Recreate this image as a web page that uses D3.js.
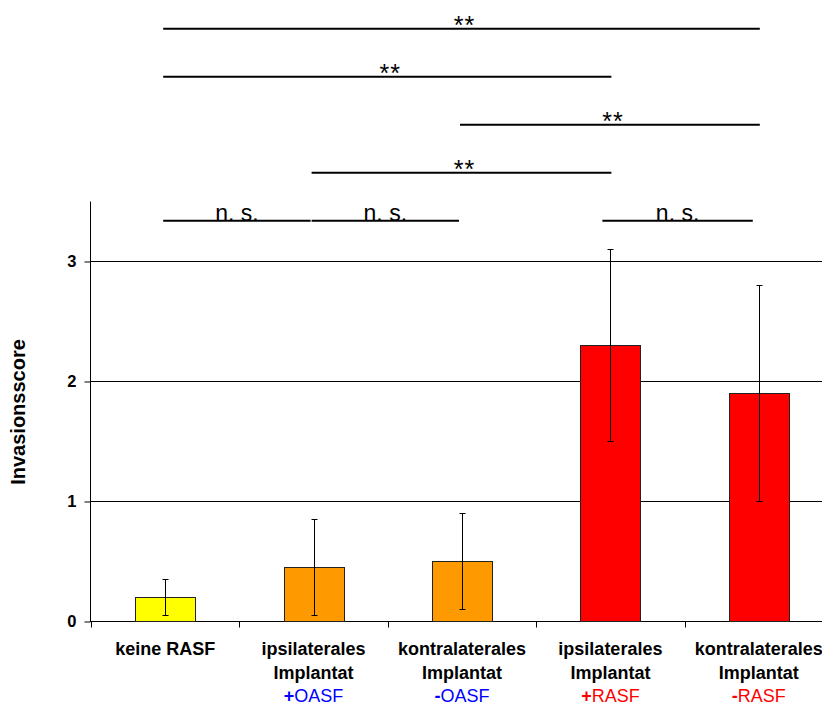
<!DOCTYPE html>
<html>
<head>
<meta charset="utf-8">
<script src="https://cdn.jsdelivr.net/npm/d3@7"></script>
<style>
  html, body { margin: 0; padding: 0; background: #fff; }
  svg { display: block; font-family: "Liberation Sans", Arial, sans-serif; }
</style>
</head>
<body>
<svg id="chart" width="822" height="705"></svg>
<script>
// ---- data ----
const categories = ["keine RASF", "ipsilaterales Implantat (+OASF)", "kontralaterales Implantat (-OASF)", "ipsilaterales Implantat (+RASF)", "kontralaterales Implantat (-RASF)"];
const labelLine1 = ["keine RASF", "ipsilaterales", "kontralaterales", "ipsilaterales", "kontralaterales"];
const labelLine2 = ["", "Implantat", "Implantat", "Implantat", "Implantat"];
const labelSign = ["", "+", "-", "+", "-"];
const labelGroup = ["", "OASF", "OASF", "RASF", "RASF"];
const values = [0.2, 0.45, 0.5, 2.3, 1.9];
const errLow = [0.05, 0.05, 0.1, 1.5, 1.0];
const errHigh = [0.35, 0.85, 0.9, 3.1, 2.8];
const barColors = ["#FFFF00", "#FF9900", "#FF9900", "#FF0000", "#FF0000"];
const groupColors = ["#000000", "#0000FF", "#0000FF", "#FF0000", "#FF0000"];
const yTicks = [0, 1, 2, 3];
const yTitle = "Invasionsscore";
// significance comparisons: [from index, to index, label, level (0 = top)]
const sigFrom = [0, 0, 2, 1, 0, 1, 3];
const sigTo = [4, 3, 4, 3, 1, 2, 4];
const sigLabel = ["**", "**", "**", "**", "n. s.", "n. s.", "n. s."];
const sigLevel = [0, 1, 2, 3, 4, 4, 4];

// ---- scales ----
const svg = d3.select("#chart");
const x = d3.scaleBand().domain(categories).range([91, 833]).padding(0);
const y = d3.scaleLinear().domain([0, 3.5]).range([621.5, 201.5]);
const levelY = d3.scaleLinear().domain([0, 4]).range([28.7, 220.7]);
const barW = 60;
const cx = i => x(categories[i]) + x.bandwidth() / 2;

// gridlines
svg.append("g").selectAll("line").data(yTicks.filter(t => t > 0)).join("line")
  .attr("x1", 91).attr("x2", 822)
  .attr("y1", d => y(d)).attr("y2", d => y(d))
  .attr("stroke", "#000").attr("stroke-width", 1);

// y axis
const yAxis = d3.axisLeft(y).tickValues(yTicks).tickSize(6).tickFormat(d3.format("d"));
const gy = svg.append("g").attr("transform", "translate(90.5,0)").call(yAxis);
gy.select(".domain").attr("d", `M0,${y(3.5)}V${y(0)}`).attr("stroke", "#000");
gy.selectAll(".tick line").attr("stroke", "#000");
gy.selectAll(".tick text").attr("x", -14).attr("font-size", 16.5).attr("font-weight", "bold")
  .attr("font-family", "Liberation Sans, Arial, sans-serif").attr("fill", "#000");

// x axis baseline and boundary ticks
svg.append("line").attr("x1", 90).attr("x2", 822).attr("y1", y(0)).attr("y2", y(0)).attr("stroke", "#000");
const bounds = categories.map(c => x(c));
svg.append("g").selectAll("line").data(bounds).join("line")
  .attr("x1", d => Math.round(d) + 0.5).attr("x2", d => Math.round(d) + 0.5)
  .attr("y1", y(0)).attr("y2", y(0) + 6).attr("stroke", "#000");

// bars
svg.append("g").selectAll("rect").data(values).join("rect")
  .attr("x", (d, i) => Math.round(cx(i) - barW / 2) + 0.5)
  .attr("width", barW)
  .attr("y", d => y(d))
  .attr("height", d => y(0) - y(d))
  .attr("fill", (d, i) => barColors[i])
  .attr("stroke", "#222").attr("stroke-width", 1);

// error bars
const eg = svg.append("g").attr("stroke", "#000").attr("stroke-width", 1);
values.forEach((v, i) => {
  const xc = Math.round(cx(i)) + 0.5;
  eg.append("line").attr("x1", xc).attr("x2", xc).attr("y1", y(errLow[i])).attr("y2", y(errHigh[i]));
  eg.append("line").attr("x1", xc - 3).attr("x2", xc + 3).attr("y1", y(errLow[i])).attr("y2", y(errLow[i]));
  eg.append("line").attr("x1", xc - 3).attr("x2", xc + 3).attr("y1", y(errHigh[i])).attr("y2", y(errHigh[i]));
});

// x labels
const lg = svg.append("g").attr("text-anchor", "middle").attr("font-size", 18);
categories.forEach((c, i) => {
  const xc = cx(i);
  lg.append("text").attr("x", xc).attr("y", 655).attr("font-weight", "bold").text(labelLine1[i]);
  if (labelLine2[i]) lg.append("text").attr("x", xc).attr("y", 678.5).attr("font-weight", "bold").text(labelLine2[i]);
  if (labelGroup[i]) {
    const t = lg.append("text").attr("x", xc).attr("y", 701.5).attr("fill", groupColors[i]);
    t.append("tspan").attr("font-weight", "bold").text(labelSign[i]);
    t.append("tspan").text(labelGroup[i]);
  }
});

// y title
svg.append("text")
  .attr("transform", `translate(25,412) rotate(-90)`)
  .attr("text-anchor", "middle").attr("font-size", 20).attr("font-weight", "bold")
  .text(yTitle);

// significance lines
const sg = svg.append("g");
sigLabel.forEach((lab, k) => {
  const ly = levelY(sigLevel[k]);
  const ns = lab !== "**";
  let x1 = cx(sigFrom[k]) - 2, x2 = cx(sigTo[k]) + 1;
  if (ns) { x1 = cx(sigFrom[k]) - 2; x2 = cx(sigTo[k]) - 3; }
  if (ns && sigFrom[k] === 3) { x1 = cx(sigFrom[k]) - 8; x2 = cx(sigTo[k]) - 6; }
  sg.append("line").attr("x1", x1).attr("x2", x2).attr("y1", ly).attr("y2", ly)
    .attr("stroke", "#000").attr("stroke-width", 2);
  sg.append("text").attr("x", (x1 + x2) / 2 + (ns ? 0 : 3)).attr("y", ns ? ly + 0.5 : ly + 5)
    .attr("text-anchor", "middle").attr("font-size", ns ? 23 : 25)
    .attr("letter-spacing", ns ? 0 : 1)
    .text(lab);
});
</script>
</body>
</html>
